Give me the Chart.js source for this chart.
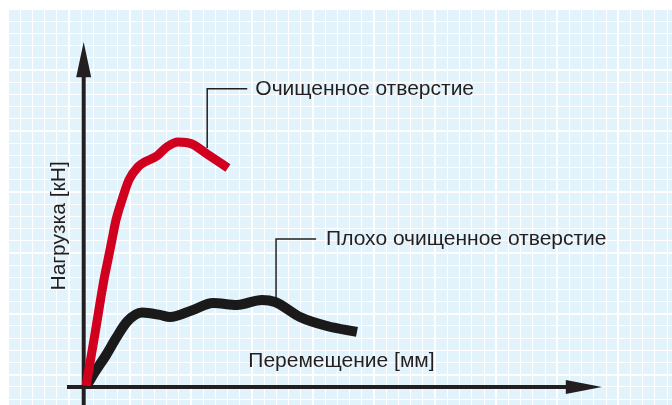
<!DOCTYPE html>
<html>
<head>
<meta charset="utf-8">
<script src="https://cdn.jsdelivr.net/npm/chart.js@4.4.1/dist/chart.umd.min.js"></script>
<style>
html, body { margin: 0; padding: 0; background: #fff; }
</style>
</head>
<body>
<canvas id="myChart" width="672" height="405"></canvas>
<script>
// displacement / load in grid-cell units, origin where the axes cross
const cleanX = [0.2, 0.93, 1.66, 1.99, 2.32, 2.65, 3.14, 3.71, 4.45, 5.02, 6.01, 6.82, 7.73, 8.87, 10.10, 11.82];
const cleanY = [0.1, 4.39, 8.78, 10.42, 12.06, 13.70, 15.34, 16.98, 18.05, 18.46, 18.95, 19.69, 20.10, 19.93, 19.11, 17.96];
const poorX = [0.25, 0.9, 1.83, 2.65, 3.55, 4.78, 6.25, 7.07, 8.95, 10.59, 12.56, 14.61, 15.68, 17.72, 19.93, 22.39];
const poorY = [0.1, 1.2, 2.6, 4.0, 5.35, 6.1, 5.91, 5.74, 6.32, 6.89, 6.73, 7.14, 6.97, 5.74, 5.00, 4.51];
const seriesLabels = ['Очищенное отверстие', 'Плохо очищенное отверстие'];
const xTitle = 'Перемещение [мм]';
const yTitle = 'Нагрузка [кН]';

const textColor = '#231f20';
const font = '21px "Liberation Sans", Arial, sans-serif';

function toPoints(xs, ys) {
    return xs.map((x, i) => ({x: x, y: ys[i]}));
}

const decor = {
    id: 'decor',
    beforeDraw(chart) {
        const {ctx, chartArea: a} = chart;
        ctx.save();
        ctx.fillStyle = '#e3f3fc';
        ctx.fillRect(a.left, a.top, a.right - a.left, a.bottom - a.top);
        ctx.restore();
    },
    beforeDatasetsDraw(chart) {
        const ctx = chart.ctx;
        const sx = chart.scales.x, sy = chart.scales.y;
        const px = v => sx.getPixelForValue(v);
        const py = v => sy.getPixelForValue(v);
        const x0 = px(0), y0 = py(0);

        ctx.save();
        ctx.fillStyle = textColor;
        ctx.strokeStyle = textColor;

        // y axis with arrow
        ctx.lineWidth = 4;
        ctx.beginPath();
        ctx.moveTo(x0, chart.chartArea.bottom);
        ctx.lineTo(x0, py(25.6));
        ctx.stroke();
        ctx.beginPath();
        ctx.moveTo(x0, py(28.3));
        ctx.lineTo(x0 - 7.5, py(25.4));
        ctx.lineTo(x0 + 7.5, py(25.4));
        ctx.closePath();
        ctx.fill();

        // x axis with arrow
        ctx.beginPath();
        ctx.moveTo(px(-1.37), y0);
        ctx.lineTo(px(39.7), y0);
        ctx.stroke();
        ctx.beginPath();
        ctx.moveTo(px(42.46), y0);
        ctx.lineTo(px(39.5), y0 - 7);
        ctx.lineTo(px(39.5), y0 + 7);
        ctx.closePath();
        ctx.fill();

        // leader lines
        ctx.lineWidth = 1.5;
        ctx.beginPath();
        ctx.moveTo(px(10.12), py(19.6));
        ctx.lineTo(px(10.12), py(24.45));
        ctx.lineTo(px(13.4), py(24.45));
        ctx.moveTo(px(15.76), py(7.2));
        ctx.lineTo(px(15.76), py(12.14));
        ctx.lineTo(px(19.04), py(12.14));
        ctx.stroke();

        // texts
        ctx.font = font;
        ctx.textBaseline = 'middle';
        ctx.textAlign = 'left';
        ctx.fillText(seriesLabels[0], px(14.06), py(24.45));
        ctx.fillText(seriesLabels[1], px(19.86), py(12.14));
        ctx.textAlign = 'center';
        ctx.fillText(xTitle, px(21.12), py(2.13));
        ctx.translate(px(-2.02), py(13.21));
        ctx.rotate(-Math.PI / 2);
        ctx.fillText(yTitle, 0, 0);
        ctx.restore();
    }
};

function gridStyle(majorEvery) {
    return {
        color: '#ffffff',
        lineWidth: c => (c.index % majorEvery === 0 ? 2 : 1),
        drawTicks: false
    };
}

const ctx = document.getElementById('myChart').getContext('2d');
const myChart = new Chart(ctx, {
    type: 'scatter',
    data: {
        datasets: [{
            label: seriesLabels[0],
            data: toPoints(cleanX, cleanY),
            showLine: true,
            borderColor: '#d2001f',
            borderWidth: 9,
            pointRadius: 0,
            cubicInterpolationMode: 'monotone'
        }, {
            label: seriesLabels[1],
            data: toPoints(poorX, poorY),
            showLine: true,
            borderColor: '#1a1a1a',
            borderWidth: 10,
            pointRadius: 0,
            cubicInterpolationMode: 'monotone'
        }]
    },
    options: {
        responsive: false,
        animation: false,
        layout: {padding: {left: 8, top: 9, right: 0, bottom: 0}},
        plugins: {
            legend: {display: false},
            tooltip: {enabled: false}
        },
        scales: {
            x: {
                type: 'linear',
                min: -6.2,
                max: 48.2,
                afterBuildTicks: scale => {
                    const t = [];
                    for (let k = 0; -6.2 + k <= 48.2 + 1e-6; k++) t.push({value: -6.2 + k});
                    scale.ticks = t;
                },
                ticks: {display: false},
                border: {display: false},
                grid: gridStyle(5)
            },
            y: {
                type: 'linear',
                min: -1.48,
                max: 31,
                afterBuildTicks: scale => {
                    const t = [];
                    for (let v = 31; v >= -1.48; v--) t.push({value: v});
                    scale.ticks = t;
                },
                ticks: {display: false},
                border: {display: false},
                grid: gridStyle(5)
            }
        }
    },
    plugins: [decor]
});
</script>
</body>
</html>
